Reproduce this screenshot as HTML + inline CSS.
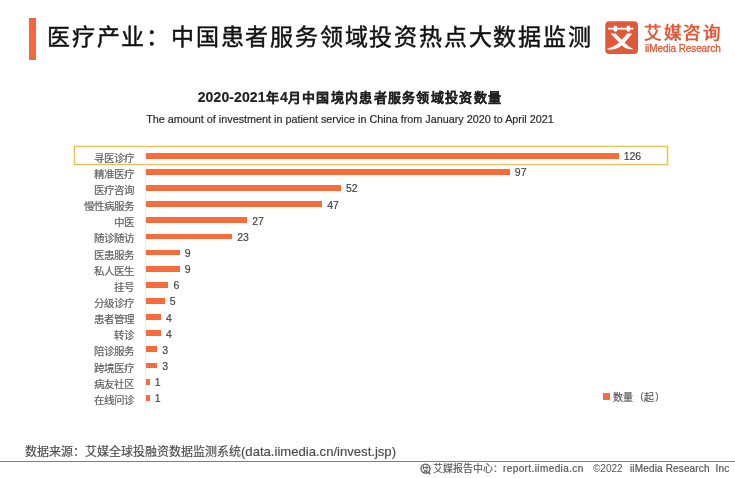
<!DOCTYPE html>
<html lang="zh-CN"><head><meta charset="utf-8">
<style>
html,body{margin:0;padding:0;}
body{width:735px;height:478px;overflow:hidden;background:#fff;position:relative;font-family:"Liberation Sans",sans-serif;}
div{position:absolute;white-space:nowrap;}
.wrap{position:absolute;left:0;top:0;width:735px;height:478px;will-change:transform;}
.tbar{left:29px;top:18.2px;width:7px;height:41.6px;background:#f5683b;}
.title{left:47px;top:22px;font-size:23px;letter-spacing:1.8px;line-height:30px;color:#111;-webkit-text-stroke:0.45px #111;}
.logo{left:605px;top:21px;width:33px;height:33px;}
.lt{left:644px;top:23px;font-size:17.5px;letter-spacing:2.6px;line-height:20px;color:#df5a3b;font-weight:bold;}
.le{left:645px;top:42.5px;font-size:10px;letter-spacing:-0.1px;line-height:11px;color:#df5a3b;-webkit-text-stroke:0.3px #df5a3b;}
.ct{left:0;width:700px;text-align:center;top:89px;letter-spacing:1.3px;font-size:13px;line-height:17px;font-weight:bold;color:#222;-webkit-text-stroke:0.2px #222;}
.ct .d{font-size:14px;letter-spacing:0.1px;}
.cs{left:0;width:700px;text-align:center;top:111.5px;font-size:10.8px;line-height:14px;color:#2a2a2a;-webkit-text-stroke:0.2px #2a2a2a;}
.hl{left:74px;top:145.7px;width:591.8px;height:16.9px;border:1.6px solid #dfc265;box-shadow:0 0 1px 0.8px rgba(252,232,140,0.55), inset 0 0 1px 0.8px rgba(252,232,140,0.55);}
.axis{left:145px;top:146px;width:1px;height:260px;background:#e6edf6;}
.bar{left:145.9px;height:5.8px;background:#f86b3a;}
.lb{left:0;width:134.0px;text-align:right;font-size:10.5px;line-height:14px;color:#595959;-webkit-text-stroke:0.15px #595959;}
.val{font-size:10.5px;line-height:14px;color:#404040;-webkit-text-stroke:0.15px #404040;}
.lg{left:603px;top:393.3px;width:7px;height:7px;background:#f86b3a;}
.lgt{left:613px;top:390.8px;font-size:10px;letter-spacing:0.45px;line-height:14px;color:#555;-webkit-text-stroke:0.2px #555;}
.src{left:25px;top:444px;font-size:12px;line-height:16px;color:#4a4a4a;-webkit-text-stroke:0.15px #4a4a4a;}
.src span{font-size:13.1px;}
.fl{left:0;top:460.8px;width:735px;height:1.6px;background:#808080;}
.ft{left:433px;top:462px;font-size:10px;line-height:13px;color:#555;-webkit-text-stroke:0.15px #555;}
.fc{left:593px;top:462px;font-size:10px;line-height:13px;color:#555;}
.lat{letter-spacing:0.4px;-webkit-text-stroke:0.2px #555;}
.lat2{letter-spacing:0.15px;-webkit-text-stroke:0.2px #555;}
.fi{left:630px;top:462px;font-size:10px;line-height:13px;color:#555;}
</style></head><body><div class="wrap">
<div class="tbar"></div>
<div class="title">医疗产业：中国患者服务领域投资热点大数据监测</div>
<svg class="logo" style="position:absolute;left:605px;top:21px" width="33" height="33" viewBox="0 0 33 33">
<rect x="0.3" y="0.2" width="32.7" height="32.8" rx="4" fill="#df5a3b"/>
<rect x="3.2" y="6.7" width="25.1" height="1.9" fill="#fff"/>
<rect x="8.8" y="4.8" width="3.2" height="5.8" rx="0.8" fill="#fff"/>
<rect x="21.7" y="4.8" width="3.2" height="5.8" rx="0.8" fill="#fff"/>
<path d="M5.5 12.6 L10.5 12.4 Q17 19 21 23 Q24.5 26.5 28.5 28.2 Q22 29 17.5 25 Q12 19.5 5.5 12.6 Z" fill="#fff"/>
<path d="M27.2 12.4 L22.2 12.4 Q16 20 11.5 23.5 Q7 26.8 1.5 28 Q8 29.8 14 26.5 Q20 22 27.2 12.4 Z" fill="#fff"/>
</svg>
<div class="lt">艾媒咨询</div>
<div class="le">iiMedia Research</div>
<div class="ct"><span class="d">2020-2021</span>年<span class="d">4</span>月中国境内患者服务领域投资数量</div>
<div class="cs">The amount of investment in patient service in China from January 2020 to April 2021</div>
<div class="hl"></div>
<div class="axis"></div>
<div class="lb" style="top:150.70px">寻医诊疗</div>
<div class="bar" style="top:152.80px;width:472.75px"></div>
<div class="val" style="top:149.10px;left:623.65px">126</div>
<div class="lb" style="top:166.84px">精准医疗</div>
<div class="bar" style="top:168.94px;width:363.94px"></div>
<div class="val" style="top:165.24px;left:514.84px">97</div>
<div class="lb" style="top:182.98px">医疗咨询</div>
<div class="bar" style="top:185.08px;width:195.10px"></div>
<div class="val" style="top:181.38px;left:346.00px">52</div>
<div class="lb" style="top:199.12px">慢性病服务</div>
<div class="bar" style="top:201.22px;width:176.34px"></div>
<div class="val" style="top:197.52px;left:327.24px">47</div>
<div class="lb" style="top:215.26px">中医</div>
<div class="bar" style="top:217.36px;width:101.30px"></div>
<div class="val" style="top:213.66px;left:252.20px">27</div>
<div class="lb" style="top:231.40px">随诊随访</div>
<div class="bar" style="top:233.50px;width:86.30px"></div>
<div class="val" style="top:229.80px;left:237.20px">23</div>
<div class="lb" style="top:247.54px">医患服务</div>
<div class="bar" style="top:249.64px;width:33.77px"></div>
<div class="val" style="top:245.94px;left:184.67px">9</div>
<div class="lb" style="top:263.68px">私人医生</div>
<div class="bar" style="top:265.78px;width:33.77px"></div>
<div class="val" style="top:262.08px;left:184.67px">9</div>
<div class="lb" style="top:279.82px">挂号</div>
<div class="bar" style="top:281.92px;width:22.51px"></div>
<div class="val" style="top:278.22px;left:173.41px">6</div>
<div class="lb" style="top:295.96px">分级诊疗</div>
<div class="bar" style="top:298.06px;width:18.76px"></div>
<div class="val" style="top:294.36px;left:169.66px">5</div>
<div class="lb" style="top:312.10px">患者管理</div>
<div class="bar" style="top:314.20px;width:15.01px"></div>
<div class="val" style="top:310.50px;left:165.91px">4</div>
<div class="lb" style="top:328.24px">转诊</div>
<div class="bar" style="top:330.34px;width:15.01px"></div>
<div class="val" style="top:326.64px;left:165.91px">4</div>
<div class="lb" style="top:344.38px">陪诊服务</div>
<div class="bar" style="top:346.48px;width:11.26px"></div>
<div class="val" style="top:342.78px;left:162.16px">3</div>
<div class="lb" style="top:360.52px">跨境医疗</div>
<div class="bar" style="top:362.62px;width:11.26px"></div>
<div class="val" style="top:358.92px;left:162.16px">3</div>
<div class="lb" style="top:376.66px">病友社区</div>
<div class="bar" style="top:378.76px;width:3.75px"></div>
<div class="val" style="top:375.06px;left:154.65px">1</div>
<div class="lb" style="top:392.80px">在线问诊</div>
<div class="bar" style="top:394.90px;width:3.75px"></div>
<div class="val" style="top:391.20px;left:154.65px">1</div>
<div class="lg"></div>
<div class="lgt">数量（起）</div>
<div class="src">数据来源：艾媒全球投融资数据监测系统<span>(data.iimedia.cn/invest.jsp)</span></div>
<div class="fl"></div>
<svg style="position:absolute;left:419px;top:462px" width="14" height="14" viewBox="0 0 14 14">
<circle cx="6.5" cy="6.6" r="4.5" fill="none" stroke="#5a5a5a" stroke-width="1.3"/>
<path d="M3.6 5.6 H9.6 M4.6 3.4 V7.4 M7.9 3.4 V7.4 M4.6 7.6 L8.8 10.4 M8.8 7.6 L4.3 10.4" stroke="#5a5a5a" stroke-width="0.95" fill="none"/>
<path d="M9.4 10 L11 12.4" stroke="#5a5a5a" stroke-width="1.5"/>
</svg>
<div class="ft">艾媒报告中心：<span class="lat">report.iimedia.cn</span></div>
<div class="fc">©2022</div>
<div class="fi"><span class="lat2">iiMedia Research&nbsp; Inc</span></div>
</div></body></html>
